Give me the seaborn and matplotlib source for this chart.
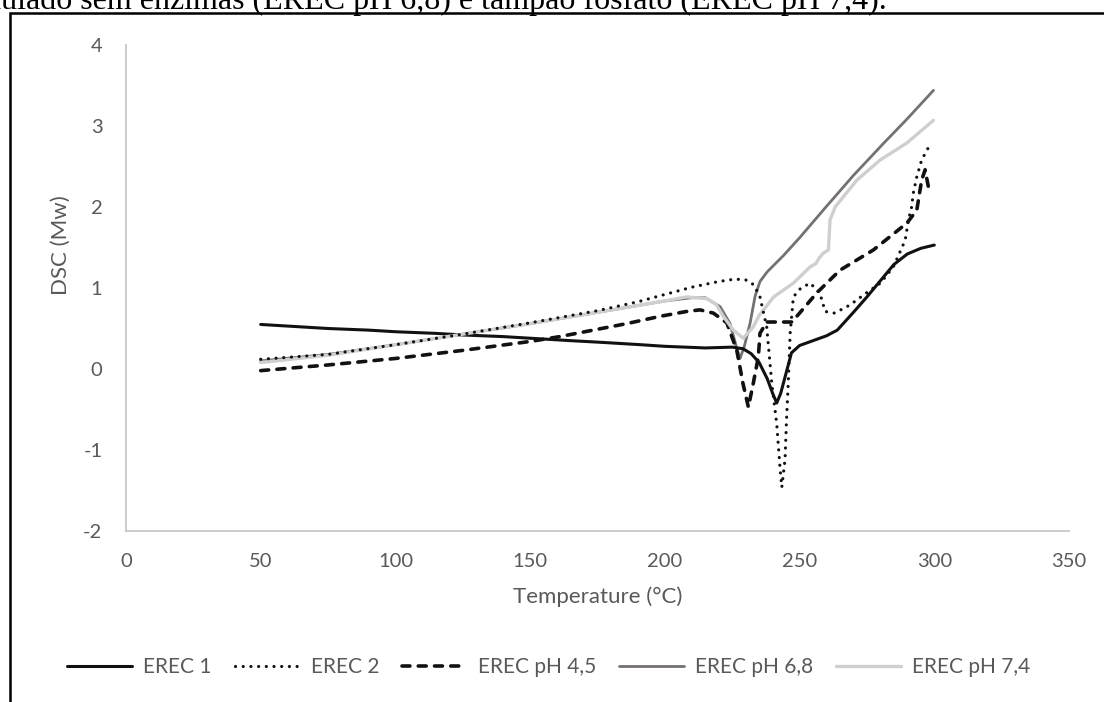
import matplotlib
matplotlib.use("Agg")
import matplotlib.pyplot as plt
import seaborn as sns
import pandas as pd
from matplotlib.patches import Rectangle

# ---------------- data ----------------
series_names = ["EREC 1", "EREC 2", "EREC pH 4,5", "EREC pH 6,8", "EREC pH 7,4"]

erec1_x = [50, 60, 75, 90, 100, 115, 125, 140, 150, 165, 176, 191, 200, 215, 225, 229,
           232, 235, 238, 240, 241.5, 243, 245, 247, 250, 255, 260, 264, 270, 275, 280,
           285, 290, 295, 300]
erec1_y = [0.55, 0.53, 0.50, 0.48, 0.46, 0.44, 0.42, 0.40, 0.38, 0.35, 0.33, 0.30, 0.28,
           0.26, 0.27, 0.25, 0.19, 0.08, -0.12, -0.30, -0.42, -0.30, -0.05, 0.20, 0.29,
           0.35, 0.41, 0.48, 0.70, 0.89, 1.09, 1.29, 1.42, 1.49, 1.53]

erec2_x = [50, 75, 100, 125, 150, 175, 190, 200, 210, 220, 226, 230, 233, 235.3, 237.8,
           239.7, 241.5, 242.7, 243.4, 244.6, 245.2, 245.8, 246.5, 247.7, 250.5, 254,
           257.6, 259.5, 263, 268.7, 274, 280, 284.8, 289.2, 290.4, 291.6, 292.2, 293.5,
           295.3, 298.4, 299.3]
erec2_y = [0.12, 0.18, 0.30, 0.43, 0.57, 0.72, 0.83, 0.92, 1.01, 1.08, 1.11, 1.10, 1.04,
           0.89, 0.52, -0.18, -0.67, -1.20, -1.46, -1.12, -0.59, -0.18, 0.44, 0.89, 1.00,
           1.06, 0.93, 0.71, 0.69, 0.79, 0.92, 1.06, 1.26, 1.59, 1.84, 2.00, 2.17, 2.37,
           2.58, 2.77, 2.78]

ph45_x = [50, 75, 100, 125, 150, 161, 173.4, 185.8, 198.2, 208, 213, 218, 223, 226.7,
          229, 231, 232.8, 234.7, 235.3, 237.8, 243.4, 247.1, 250, 256.4, 265, 277.4,
          289.8, 293.5, 295.3, 296.6, 297.8, 299.7]
ph45_y = [-0.02, 0.05, 0.13, 0.23, 0.34, 0.40, 0.48, 0.56, 0.65, 0.71, 0.73, 0.69, 0.57,
          0.23, -0.18, -0.47, -0.18, 0.15, 0.44, 0.58, 0.58, 0.58, 0.69, 0.94, 1.22, 1.47,
          1.80, 1.96, 2.33, 2.46, 2.25, 2.24]

ph68_x = [50, 75, 100, 125, 150, 175, 200, 210, 215, 220.5, 224.2, 226.5, 227.9, 229.5,
          231.6, 233.5, 235.3, 238, 244, 250, 259, 270, 281, 290, 299.7]
ph68_y = [0.10, 0.18, 0.30, 0.43, 0.56, 0.70, 0.84, 0.88, 0.88, 0.77, 0.56, 0.28, 0.13,
          0.28, 0.56, 0.90, 1.08, 1.20, 1.40, 1.62, 1.97, 2.39, 2.78, 3.09, 3.44]

ph74_x = [50, 75, 100, 125, 150, 175, 200, 208, 215.5, 219, 221.7, 225.4, 229.1, 232.8,
          235, 240.4, 247.7, 253.9, 256, 257.5, 258.8, 260.7, 261.3, 263.2, 271.2, 279.9,
          289.8, 299.7]
ph74_y = [0.08, 0.17, 0.30, 0.43, 0.56, 0.70, 0.84, 0.89, 0.87, 0.80, 0.65, 0.48, 0.38,
          0.52, 0.66, 0.89, 1.06, 1.26, 1.30, 1.38, 1.43, 1.47, 1.84, 2.00, 2.33, 2.58,
          2.79, 3.07]

x_ticks = [0, 50, 100, 150, 200, 250, 300, 350]
y_ticks = [-2, -1, 0, 1, 2, 3, 4]
x_label = "Temperature (°C)"
y_label = "DSC (Mw)"
caption = "simulado sem enzimas (EREC pH 6,8) e tampão fosfato (EREC pH 7,4)."

# ---------------- style ----------------
sns.set_style("white")
plt.rcParams["font.family"] = ["Lato", "DejaVu Sans"]
plt.rcParams["axes.unicode_minus"] = False

W, H = 1104, 702
fig = plt.figure(figsize=(W / 100, H / 100), dpi=100)
ax = fig.add_axes([126 / W, 1 - 531 / H, (1069 - 126) / W, (531 - 45) / H])

styles = [
    dict(color="#111111", lw=2.2, linestyle="-"),
    dict(color="#111111", lw=2.3, linestyle=(0, (0.01, 2.4)), dash_capstyle="round"),
    dict(color="#111111", lw=2.6, linestyle=(0, (2.2, 2.3)), dash_capstyle="round"),
    dict(color="#767171", lw=2.0, linestyle="-"),
    dict(color="#d0cece", lw=2.4, linestyle="-"),
]
xs = [erec1_x, erec2_x, ph45_x, ph68_x, ph74_x]
ys = [erec1_y, erec2_y, ph45_y, ph68_y, ph74_y]
zorders = [3, 6, 4, 2, 5]

for name, x, y, st, z in zip(series_names, xs, ys, styles, zorders):
    df = pd.DataFrame({"T": x, "DSC": y})
    sns.lineplot(data=df, x="T", y="DSC", ax=ax, sort=False, estimator=None,
                 label=name, zorder=z, solid_capstyle="round", **st)

ax.set_xlim(0, 350)
ax.set_ylim(-2, 4)
ax.set_xticks(x_ticks)
ax.set_yticks(y_ticks)
ax.tick_params(length=0, labelsize=14.5, labelcolor="#595959")
ax.tick_params(axis="x", pad=16)
ax.tick_params(axis="y", pad=17)
for s in ["top", "right"]:
    ax.spines[s].set_visible(False)
for s in ["left", "bottom"]:
    ax.spines[s].set_color("#c8c8c8")
    ax.spines[s].set_linewidth(1.3)

ax.set_xlabel(x_label, fontsize=16, color="#595959")
ax.set_ylabel(y_label, fontsize=16, color="#595959")
ax.xaxis.set_label_coords(0.5, -0.115)
ax.yaxis.set_label_coords(-0.058, 0.588)

handles, labels = ax.get_legend_handles_labels()
if ax.get_legend():
    ax.get_legend().remove()
fig.legend(handles, labels, loc="center", bbox_to_anchor=(549 / W, 1 - 667 / H),
           ncol=5, frameon=False, fontsize=15, labelcolor="#595959",
           handlelength=3.1, handletextpad=0.55, columnspacing=1.1)

# outer frame (partially visible) and cut-off caption line
fig.patches.append(Rectangle((10 / W, -0.1), 1.2, 1 - 13 / H + 0.1, transform=fig.transFigure,
                             fill=False, edgecolor="black", linewidth=1.8, zorder=10))
fig.text(887 / W, 1 - 9 / H, caption, ha="right", va="baseline",
         fontsize=23, family=["Liberation Serif", "DejaVu Serif"], color="black")

fig.savefig("out.png", dpi=100)
